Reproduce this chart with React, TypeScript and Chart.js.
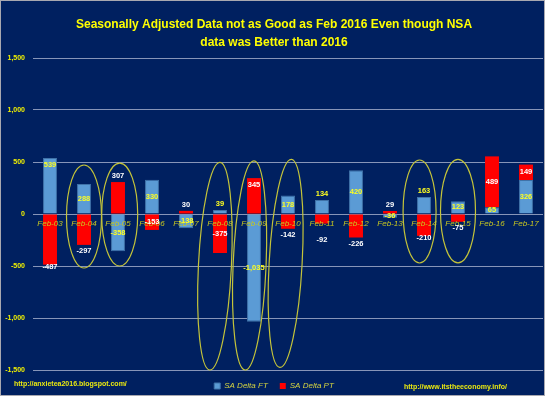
import React, { useEffect, useRef } from 'react';
import { Chart, registerables } from 'chart.js';

Chart.register(...registerables);

const titleLines = [
  'Seasonally Adjusted Data not as Good as Feb 2016 Even though NSA',
  'data was Better than 2016',
];
const categories = [
  'Feb-03', 'Feb-04', 'Feb-05', 'Feb-06', 'Feb-07', 'Feb-08', 'Feb-09', 'Feb-10',
  'Feb-11', 'Feb-12', 'Feb-13', 'Feb-14', 'Feb-15', 'Feb-16', 'Feb-17',
];
const saDeltaFT = [539, 288, -358, 330, -138, 39, -1035, 178, 134, 420, -36, 163, 123, 65, 326];
const saDeltaPT = [-487, -297, 307, -153, 30, -375, 345, -142, -92, -226, 29, -210, -75, 489, 149];
const yMin = -1500;
const yMax = 1500;
const yStep = 500;
const seriesNames = ['SA Delta FT', 'SA Delta PT'];
const leftNote = 'http://anxietea2016.blogspot.com/';
const rightNote = 'http://www.itstheeconomy.info/';

// label placement keywords: c = centre, i = inside end, o = outside end, e = on end, f = far outside
const ftLabelPlace = ['i', 'c', 'c', 'c', 'c', 'o', 'c', 'c', 'o', 'c', 'c', 'o', 'c', 'c', 'c'];
const ptLabelPlace = ['e', 'o', 'o', 'c', 'o', 'c', 'i', 'o', 'f', 'o', 'o', 'e', 'o', 'c', 'c'];

// highlight ellipses: [top category index, top value, bottom category index, bottom value]
const ellipseTops = [
  [1, 471, 1, -519],
  [2.05, 490, 2.05, -500],
  [5, 497, 4.7, -1500],
  [6, 510, 5.74, -1500],
  [7.1, 526, 6.76, -1475],
  [10.87, 519, 10.87, -471],
  [12, 525, 12, -470],
];
const ellipseHalfWidths = [17.5, 18, 16.5, 16.5, 16.5, 16.5, 17.5];

const NAVY = '#002060';
const NARROW = '"Liberation Sans Narrow", "Liberation Sans", Arial, sans-serif';

const fmt = (v: number) => v.toLocaleString('en-US');

const decorPlugin = {
  id: 'decor',
  beforeDraw(chart: any) {
    const { ctx, width, height } = chart;
    ctx.save();
    ctx.fillStyle = NAVY;
    ctx.fillRect(0, 0, width, height);
    ctx.restore();
  },
  afterDraw(chart: any) {
    const { ctx, width, height } = chart;
    const xs = chart.scales.x;
    const ys = chart.scales.y;
    ctx.save();
    // ellipses
    ctx.strokeStyle = '#c4c43a';
    ctx.lineWidth = 1.2;
    ellipseTops.forEach((e, i) => {
      const tx = xs.getPixelForValue(e[0]);
      const ty = ys.getPixelForValue(e[1]);
      const bx = xs.getPixelForValue(e[2]);
      const by = ys.getPixelForValue(e[3]);
      const cx = (tx + bx) / 2;
      const cy = (ty + by) / 2;
      const len = Math.hypot(tx - bx, ty - by) / 2;
      const rot = Math.atan2(tx - bx, by - ty);
      ctx.beginPath();
      ctx.ellipse(cx, cy, ellipseHalfWidths[i], len, rot, 0, Math.PI * 2);
      ctx.stroke();
    });
    // data labels
    ctx.font = `bold 7.5px ${NARROW}`;
    ctx.textAlign = 'center';
    ctx.textBaseline = 'middle';
    const series = [saDeltaFT, saDeltaPT];
    const places = [ftLabelPlace, ptLabelPlace];
    const colors = ['#ffff20', '#ffffff'];
    series.forEach((vals, d) => {
      const meta = chart.getDatasetMeta(d);
      meta.data.forEach((el: any, j: number) => {
        const v = vals[j];
        const dir = v >= 0 ? 1 : -1;
        const p = places[d][j];
        let y = (el.y + el.base) / 2;
        if (p === 'i') y = el.y + 7 * dir;
        else if (p === 'o') y = el.y - 6 * dir;
        else if (p === 'e') y = el.y - 2 * dir;
        else if (p === 'f') y = el.y - 16 * dir;
        ctx.fillStyle = colors[d];
        ctx.fillText(fmt(v), el.x, y);
      });
    });
    // footer notes
    ctx.fillStyle = '#e8e810';
    ctx.font = `bold 7px ${NARROW}`;
    ctx.textAlign = 'left';
    ctx.fillText(leftNote, 14, 384);
    ctx.textAlign = 'right';
    ctx.fillText(rightNote, 507, 387);
    // outer border
    ctx.strokeStyle = '#a8a8b0';
    ctx.lineWidth = 1;
    ctx.strokeRect(0.5, 0.5, width - 1, height - 1);
    ctx.restore();
  },
};

export default function App() {
  const ref = useRef<HTMLCanvasElement>(null);
  useEffect(() => {
    document.body.style.margin = '0';
    const canvas = ref.current;
    if (!canvas) return;
    const chart = new Chart(canvas, {
      type: 'bar',
      data: {
        labels: categories,
        datasets: [
          {
            label: seriesNames[0],
            data: saDeltaFT,
            backgroundColor: '#5b9bd5',
            borderColor: '#3f72a8',
            borderWidth: 1,
            barPercentage: 1,
            categoryPercentage: 0.41,
          },
          {
            label: seriesNames[1],
            data: saDeltaPT,
            backgroundColor: '#ff0000',
            borderColor: '#d00000',
            borderWidth: 0,
            barPercentage: 1,
            categoryPercentage: 0.41,
          },
        ],
      },
      options: {
        responsive: false,
        maintainAspectRatio: false,
        animation: false,
        layout: { padding: { left: 5, right: 2, top: 0, bottom: -4 } },
        plugins: {
          title: {
            display: true,
            text: titleLines,
            color: '#ffff00',
            font: { family: NARROW, size: 12, weight: 'bold', lineHeight: 18 / 12 },
            padding: { top: 16, bottom: 6 },
          },
          legend: {
            position: 'bottom',
            labels: {
              boxWidth: 6,
              boxHeight: 6,
              padding: 12,
              color: '#d4d440',
              font: { family: NARROW, size: 8, style: 'italic' },
            },
          },
          tooltip: { enabled: false },
        },
        scales: {
          x: {
            stacked: true,
            position: { y: 0 },
            grid: { display: false, drawTicks: false },
            border: { display: false },
            ticks: {
              z: 1,
              color: '#c8c820',
              padding: 5,
              maxRotation: 0,
              autoSkip: false,
              font: { family: NARROW, size: 8, style: 'italic' },
            },
          },
          y: {
            stacked: true,
            min: yMin,
            max: yMax,
            afterFit: (s: any) => {
              s.width = 28;
            },
            grid: { color: '#8795b8', lineWidth: 1, drawTicks: false },
            border: { display: false },
            ticks: {
              stepSize: yStep,
              padding: 8,
              color: '#f0f000',
              font: { family: NARROW, size: 7, weight: 'bold' },
              callback: (v: any) => fmt(Number(v)),
            },
          },
        },
      },
      plugins: [decorPlugin],
    } as any);
    return () => chart.destroy();
  }, []);
  return (
    <div style={{ width: 545, height: 396, background: NAVY }}>
      <canvas ref={ref} width={545} height={396} style={{ display: 'block' }} />
    </div>
  );
}
